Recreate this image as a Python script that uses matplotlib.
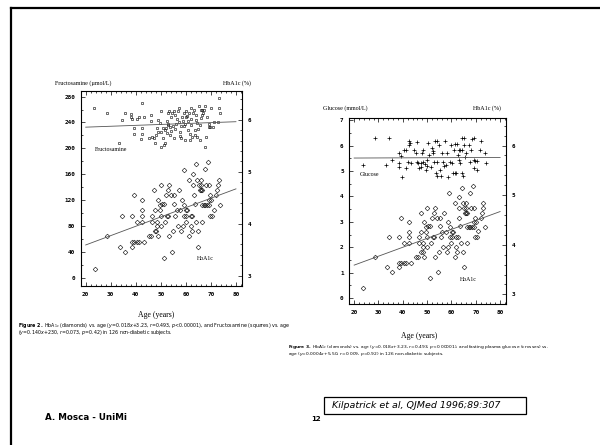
# =====================================================
# SLIDE 12 - HbA1c / FRUCTOSAMINE / GLUCOSE VS AGE
# =====================================================

import numpy as np
import matplotlib
matplotlib.use("Agg")
import matplotlib.pyplot as plt
from matplotlib.lines import Line2D
from matplotlib.patches import Rectangle

# -----------------------------
# DATA
# -----------------------------

# Fructosamine (squares), left figure
fru_age = [23.5, 28.6, 33.4, 34.4, 35.5, 38.2, 38.2, 38.3, 39.2, 39.3, 40.3, 41.2,
           42.2, 42.3, 42.4, 42.4, 43.1, 45.3, 46.1, 46.1, 46.6, 47.5, 48.2, 48.4,
           48.8, 49.5, 49.9, 50.1, 50.1, 50.8, 51.2, 51.7, 51.7, 52.1, 52.4, 52.5,
           53.0, 53.0, 53.4, 53.7, 54.1, 54.1, 54.5, 54.7, 55.1, 55.4, 56.0, 56.7,
           57.4, 57.6, 58.0, 58.0, 58.7, 59.1, 59.3, 59.6, 60.0, 60.2, 60.6, 61.0,
           61.3, 61.7, 61.9, 62.2, 62.5, 62.9, 63.3, 63.5, 63.9, 64.3, 64.6, 65.2,
           65.5, 65.6, 65.9, 66.1, 66.5, 66.9, 67.6, 67.8, 68.1, 68.5, 69.1, 69.1,
           69.8, 70.1, 70.7, 71.4, 72.8, 73.1, 73.1, 73.7,
           55.8, 56.3, 57.1, 58.3, 59.8, 60.8, 62.0, 64.0, 66.6, 67.2, 52.8, 50.8,
           49.0, 47.3, 57.8, 61.5, 63.8, 65.0, 53.5, 55.8]
fru_val = [262, 254, 208, 244, 255, 253, 249, 245, 231, 222, 245, 248,
           214, 223, 270, 231, 248, 216, 252, 242, 218, 209, 221, 231,
           244, 239, 258, 226, 203, 216, 206, 209, 228, 231, 243, 224,
           254, 236, 258, 233, 249, 227, 254, 234, 216, 257, 238, 257,
           263, 219, 234, 216, 242, 254, 234, 213, 249, 257, 250, 229,
           254, 213, 246, 262, 218, 254, 260, 229, 251, 239, 218, 265,
           236, 213, 260, 247, 259, 254, 265, 203, 218, 249, 233, 238,
           233, 262, 233, 240, 240, 277, 262, 254,
           251, 245, 240, 248, 238, 243, 236, 244, 251, 260, 237, 231,
           226, 216, 226, 222, 220, 230, 220, 230]

# HbA1c (diamonds), same subjects in both figures
hba_age = [23.7, 28.5, 33.5, 34.4, 35.5, 38.3, 38.3, 38.3, 39.4, 40.3, 39.4, 40.4,
           41.4, 42.5, 42.5, 42.5, 42.5, 43.3, 45.3, 46.2, 46.6, 46.6, 47.3, 47.5,
           47.5, 48.1, 48.4, 48.4, 48.8, 48.8, 49.5, 49.5, 50.1, 50.1, 50.1, 50.5,
           51.2, 51.5, 51.2, 52.1, 52.4, 52.8, 52.8, 53.2, 53.4, 54.1, 54.3, 54.7,
           55.1, 55.1, 55.6, 56.3, 56.7, 57.1, 57.6, 58.0, 58.4, 58.7, 59.3, 59.3,
           60.2, 59.1, 60.0, 60.2, 60.6, 61.3, 61.3, 61.9, 61.9, 62.6, 62.3, 62.9,
           63.0, 63.3, 63.6, 63.9, 64.2, 64.6, 64.8, 65.0, 65.2, 65.9, 65.5, 65.9,
           66.5, 66.1, 66.3, 66.5, 67.2, 67.8, 68.5, 69.1, 67.8, 68.1, 68.9, 69.1,
           69.1, 69.5, 70.4, 69.8, 70.2, 71.1, 72.2, 72.5, 72.8, 73.1, 73.7]
hba_val = [3.13, 3.76, 3.55, 4.15, 3.45, 4.15, 3.55, 3.64, 4.55, 4.04, 3.64, 3.64,
           3.64, 4.45, 4.26, 4.15, 4.04, 3.64, 3.76, 3.76, 4.15, 4.04, 4.65, 4.26,
           3.85, 3.85, 4.04, 3.95, 4.45, 3.76, 4.35, 4.26, 4.75, 4.15, 3.95, 4.37,
           4.37, 4.04, 3.34, 4.55, 4.15, 4.15, 4.65, 4.75, 3.76, 4.55, 3.45, 3.85,
           4.55, 4.37, 4.15, 4.26, 3.95, 4.65, 4.26, 3.85, 4.45, 3.95, 4.35, 4.15,
           4.15, 5.04, 4.04, 4.26, 4.26, 3.76, 4.85, 3.95, 4.15, 4.15, 3.85, 4.75,
           4.96, 4.55, 4.37, 4.04, 5.15, 4.85, 3.85, 3.56, 4.75, 4.75, 4.65, 4.65,
           4.65, 4.85, 4.04, 4.35, 4.35, 4.35, 4.35, 4.35, 5.05, 4.75, 5.18, 4.75,
           4.46, 4.15, 4.15, 4.55, 4.45, 4.27, 4.55, 4.65, 4.75, 4.85, 4.35]

# Fasting plasma glucose (crosses), right figure
glu_age = [23.7, 28.4, 33.2, 34.5, 35.6, 38.6, 38.6, 38.6, 39.3, 39.7, 40.3, 41.3,
           41.3, 42.0, 42.4, 42.7, 43.1, 43.3, 44.7, 45.4, 46.0, 46.0, 46.3, 46.7,
           47.4, 47.4, 48.0, 48.4, 48.5, 49.0, 49.4, 49.8, 50.1, 50.5, 50.8, 51.5,
           51.9, 52.4, 52.4, 52.8, 53.2, 53.5, 53.9, 54.2, 54.2, 54.9, 55.3, 55.6,
           56.2, 56.5, 56.9, 57.2, 57.9, 58.3, 58.7, 59.3, 59.9, 60.3, 60.7, 61.0,
           61.3, 62.3, 61.4, 62.0, 62.6, 62.9, 63.6, 64.3, 63.3, 63.7, 64.4, 65.0,
           64.4, 64.6, 65.0, 65.4, 66.1, 67.1, 67.8, 68.0, 68.4, 69.1, 69.4, 69.4,
           69.8, 70.6, 70.5, 71.8, 72.2, 73.6, 74.3]
glu_val = [5.22, 6.31, 5.22, 6.31, 5.43, 5.72, 5.33, 5.14, 5.59, 4.75, 5.82, 5.82,
           5.10, 5.37, 6.19, 6.02, 6.10, 5.33, 5.82, 5.72, 6.12, 5.37, 5.33, 5.10,
           5.14, 5.33, 5.70, 5.82, 5.37, 5.27, 5.04, 5.43, 5.20, 6.11, 5.63, 5.17,
           5.90, 5.80, 5.70, 5.37, 6.19, 4.93, 4.80, 5.37, 6.19, 6.02, 5.04, 4.80,
           5.72, 5.37, 5.20, 6.19, 5.24, 5.72, 4.75, 5.37, 6.02, 5.33, 4.93, 5.82,
           6.05, 6.05, 4.93, 4.93, 5.63, 5.82, 5.82, 5.82, 5.43, 5.33, 6.31, 6.31,
           4.93, 4.80, 6.02, 5.56, 5.69, 6.02, 5.37, 5.82, 6.24, 6.31, 5.43, 5.13,
           5.40, 5.40, 5.04, 5.82, 6.19, 5.72, 5.33]

# regression lines quoted in the captions (slope, intercept)
hba_fit = (0.018, 3.23)
fru_fit = (0.140, 230)
glu_fit = (0.0004, 5.50)
fit_range = [20, 80]

age_ticks = [20, 30, 40, 50, 60, 70, 80]
fru_ticks = [0, 40, 80, 120, 160, 200, 240, 280]
glu_ticks = [0, 1, 2, 3, 4, 5, 6, 7]
hba_ticks = [3, 4, 5, 6]

caption2 = [r"$\bf{Figure\ 2.}$ HbA$_{1c}$ (diamonds) vs. age ($y$=0.018$x$+3.23, $r$=0.493, $p$<0.00001), and Fructosamine (squares) vs. age",
            r"($y$=0.140$x$+230, $r$=0.073, $p$=0.42) in 126 non-diabetic subjects."]
caption3 = [r"$\bf{Figure\ 3.}$ HbA$_{1c}$ (diamonds) vs. age ($y$=0.018$x$+3.23, $r$=0.493, $p$<0.00001), and fasting plasma glucose (crosses) vs.",
            r"age ($y$=0.0004$x$+5.50, $r$=0.009, $p$=0.92) in 126 non-diabetic subjects."]

# -----------------------------
# HELPERS
# -----------------------------

W, H = 600, 445
SERIF = "Liberation Serif"
TICKFONT = dict(fontfamily="DejaVu Sans Mono", fontweight="bold", fontsize=4.3)


def rect(x0, y0, x1, y1):
    # pixel box (y down) -> figure fraction
    return [x0 / W, 1 - y1 / H, (x1 - x0) / W, (y1 - y0) / H]


def style(ax, ax2, yticks, yminor):
    for s in ax.spines.values():
        s.set_linewidth(0.6)
    ax.set_xticks(age_ticks)
    ax.set_xticklabels([str(t) for t in age_ticks], **TICKFONT)
    ax.set_xticks(np.arange(18, 84, 2), minor=True)
    ax.set_yticks(yticks)
    ax.set_yticklabels([str(t) for t in yticks], **TICKFONT)
    ax.set_yticks(yminor, minor=True)
    ax.tick_params(which="both", direction="in", top=True, right=False,
                   width=0.5, pad=4)
    ax.tick_params(which="major", length=3)
    ax.tick_params(which="minor", length=1.6)
    ax2.set_yticks(hba_ticks)
    ax2.set_yticklabels([str(t) for t in hba_ticks], **TICKFONT)
    ax2.set_yticks(np.arange(2.8, 6.6, 0.2), minor=True)
    ax2.tick_params(which="both", direction="in", width=0.5, pad=4)
    ax2.tick_params(which="major", length=3)
    ax2.tick_params(which="minor", length=1.6)


# -----------------------------
# FIGURE
# -----------------------------

plt.rcParams["mathtext.fontset"] = "dejavusans"

fig = plt.figure(figsize=(6, 4.45), dpi=100)
fig.patch.set_facecolor("white")

# slide border (left and top)
fig.add_artist(Line2D([11 / W, 11 / W], [0, 1 - 8 / H], color="black", lw=1.6))
fig.add_artist(Line2D([11 / W, 1], [1 - 8 / H, 1 - 8 / H], color="black", lw=1.6))

# ---------- LEFT: fructosamine + HbA1c ----------
axL = fig.add_axes(rect(80.7, 90.7, 241.7, 286))
axL.set_xlim(19, 82.3)
axL.set_ylim(-12, 289)
axL2 = axL.twinx()
axL2.set_ylim(2.81, 6.56)
style(axL, axL2, fru_ticks, np.arange(20, 290, 40))

fx = np.array(fit_range)
axL.plot(fru_age, fru_val, ls="none", marker="s", ms=2.1, mfc="none",
         mec="black", mew=0.4)
axL.plot(fx, fru_fit[0] * fx + fru_fit[1], color="#555555", lw=0.6)
axL2.plot(hba_age, hba_val, ls="none", marker="D", ms=2.4, mfc="none",
          mec="black", mew=0.4)
axL2.plot(fx, hba_fit[0] * fx + hba_fit[1], color="#555555", lw=0.6)

axL.text(23.5, 198, "Fructosamine", fontfamily=SERIF, fontsize=4.2, va="center")
axL2.text(64.5, 3.32, "HbA1c", fontfamily=SERIF, fontsize=4.2, va="center")

fig.text(55 / W, 1 - 83 / H, "Fructosamine (\u00b5mol/L)", fontfamily=SERIF,
         fontsize=4.3, va="center")
fig.text(223 / W, 1 - 83 / H, "HbA1c (%)", fontfamily=SERIF, fontsize=4.3,
         va="center")
fig.text(156 / W, 1 - 315 / H, "Age (years)", fontfamily=SERIF, fontsize=5.6,
         ha="center", va="center")
for i, line in enumerate(caption2):
    fig.text(18 / W, 1 - (325 + 7.5 * i) / H, line, fontfamily="DejaVu Sans",
             fontsize=3.4, va="center")

# ---------- RIGHT: glucose + HbA1c ----------
axR = fig.add_axes(rect(349.3, 118.3, 505.7, 304.3))
axR.set_xlim(18.6, 82.3)
axR.set_ylim(-0.24, 7.07)
axR2 = axR.twinx()
axR2.set_ylim(2.81, 6.55)
style(axR, axR2, glu_ticks, np.arange(0.5, 7.1, 1.0))

axR.plot(glu_age, glu_val, ls="none", marker="+", ms=2.2, mec="black", mew=0.5)
axR.plot(fx, glu_fit[0] * fx + glu_fit[1], color="#555555", lw=0.6)
axR2.plot(hba_age, hba_val, ls="none", marker="D", ms=2.4, mfc="none",
          mec="black", mew=0.4)
axR2.plot(fx, hba_fit[0] * fx + hba_fit[1], color="#555555", lw=0.6)

axR.text(22.5, 4.88, "Glucose", fontfamily=SERIF, fontsize=4.2, va="center")
axR2.text(63.3, 3.29, "HbA1c", fontfamily=SERIF, fontsize=4.2, va="center")

fig.text(323 / W, 1 - 108 / H, "Glucose (mmol/L)", fontfamily=SERIF,
         fontsize=4.3, va="center")
fig.text(473 / W, 1 - 108 / H, "HbA1c (%)", fontfamily=SERIF, fontsize=4.3,
         va="center")
fig.text(419 / W, 1 - 336 / H, "Age (years)", fontfamily=SERIF, fontsize=5.6,
         ha="center", va="center")
for i, line in enumerate(caption3):
    fig.text(288 / W, 1 - (347 + 7 * i) / H, line, fontfamily="DejaVu Sans",
             fontsize=3.2, va="center")

# ---------- FOOTER ----------
fig.text(45 / W, 1 - 418 / H, "A. Mosca - UniMi", fontfamily="DejaVu Sans",
         fontweight="bold", fontsize=6.3, va="center")
fig.text(316 / W, 1 - 419 / H, "12", fontfamily="DejaVu Sans",
         fontweight="bold", fontsize=5, ha="center", va="center")
fig.add_artist(Rectangle((324 / W, 1 - 414 / H), 202 / W, 17 / H,
                         fill=False, edgecolor="black", lw=0.9))
fig.text(332 / W, 1 - 405.5 / H, "Kilpatrick et al, QJMed 1996;89:307",
         fontfamily="DejaVu Sans", style="italic", fontsize=6.8, va="center")

plt.savefig("out.png", dpi=100)
print("saved out.png")
